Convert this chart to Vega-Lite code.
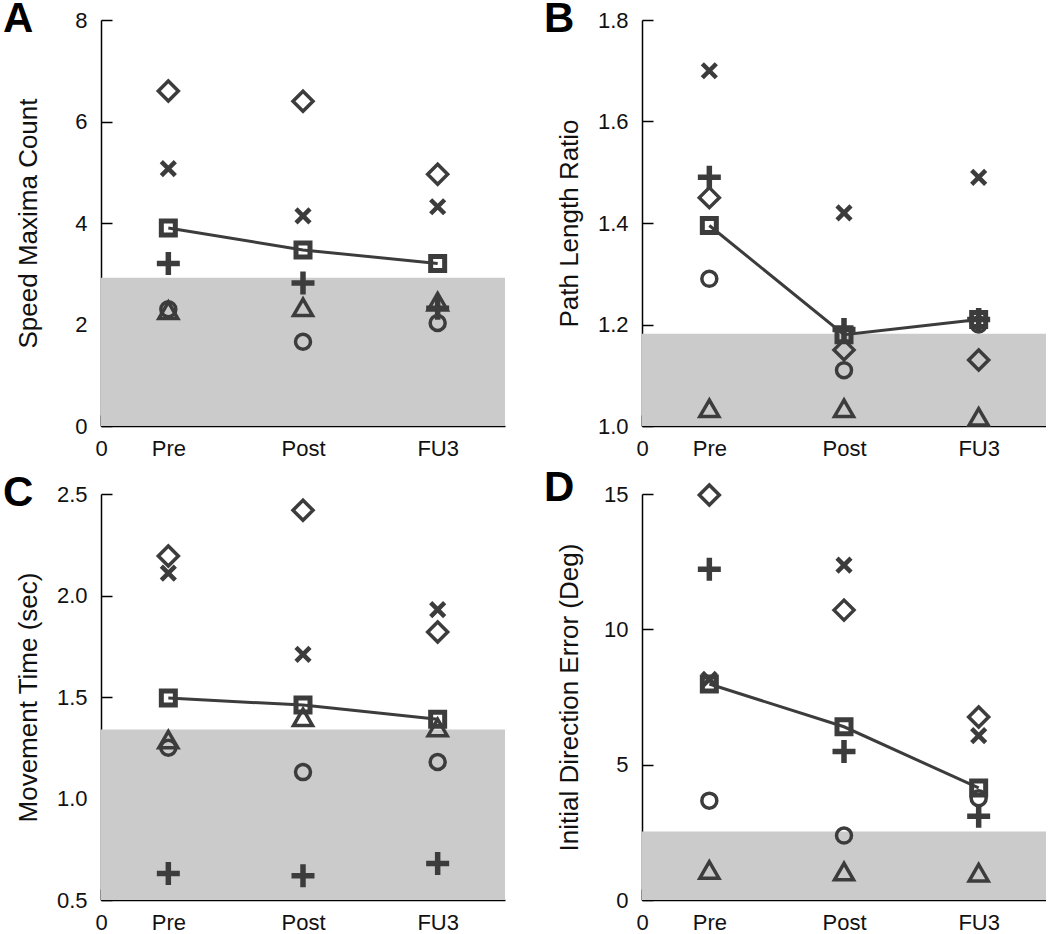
{
 "$schema": "https://vega.github.io/schema/vega-lite/v6.json",
 "padding": {"left": 3, "top": -2, "right": 0, "bottom": 0},
 "background": "white",
 "datasets": {
  "pts": [
   {"p":"A","t":1,"s":"dia","v":6.6},{"p":"A","t":1,"s":"x","v":5.07},{"p":"A","t":1,"s":"plus","v":3.2},{"p":"A","t":1,"s":"circ","v":2.3},{"p":"A","t":1,"s":"tri","v":2.28},{"p":"A","t":1,"s":"mean","v":3.9},
   {"p":"A","t":3,"s":"dia","v":6.4},{"p":"A","t":3,"s":"x","v":4.14},{"p":"A","t":3,"s":"plus","v":2.82},{"p":"A","t":3,"s":"circ","v":1.66},{"p":"A","t":3,"s":"tri","v":2.34},{"p":"A","t":3,"s":"mean","v":3.47},
   {"p":"A","t":5,"s":"dia","v":4.96},{"p":"A","t":5,"s":"x","v":4.32},{"p":"A","t":5,"s":"plus","v":2.32},{"p":"A","t":5,"s":"circ","v":2.03},{"p":"A","t":5,"s":"tri","v":2.45},{"p":"A","t":5,"s":"mean","v":3.2},
   {"p":"B","t":1,"s":"dia","v":1.45},{"p":"B","t":1,"s":"x","v":1.70},{"p":"B","t":1,"s":"plus","v":1.49},{"p":"B","t":1,"s":"circ","v":1.29},{"p":"B","t":1,"s":"tri","v":1.035},{"p":"B","t":1,"s":"mean","v":1.395},
   {"p":"B","t":3,"s":"dia","v":1.15},{"p":"B","t":3,"s":"x","v":1.42},{"p":"B","t":3,"s":"plus","v":1.19},{"p":"B","t":3,"s":"circ","v":1.11},{"p":"B","t":3,"s":"tri","v":1.035},{"p":"B","t":3,"s":"mean","v":1.18},
   {"p":"B","t":5,"s":"dia","v":1.13},{"p":"B","t":5,"s":"x","v":1.49},{"p":"B","t":5,"s":"plus","v":1.21},{"p":"B","t":5,"s":"circ","v":1.2},{"p":"B","t":5,"s":"tri","v":1.018},{"p":"B","t":5,"s":"mean","v":1.21},
   {"p":"C","t":1,"s":"dia","v":2.195},{"p":"C","t":1,"s":"x","v":2.11},{"p":"C","t":1,"s":"plus","v":0.63},{"p":"C","t":1,"s":"circ","v":1.25},{"p":"C","t":1,"s":"tri","v":1.29},{"p":"C","t":1,"s":"mean","v":1.495},
   {"p":"C","t":3,"s":"dia","v":2.42},{"p":"C","t":3,"s":"x","v":1.71},{"p":"C","t":3,"s":"plus","v":0.62},{"p":"C","t":3,"s":"circ","v":1.13},{"p":"C","t":3,"s":"tri","v":1.40},{"p":"C","t":3,"s":"mean","v":1.46},
   {"p":"C","t":5,"s":"dia","v":1.82},{"p":"C","t":5,"s":"x","v":1.93},{"p":"C","t":5,"s":"plus","v":0.68},{"p":"C","t":5,"s":"circ","v":1.18},{"p":"C","t":5,"s":"tri","v":1.35},{"p":"C","t":5,"s":"mean","v":1.39},
   {"p":"D","t":1,"s":"dia","v":14.96},{"p":"D","t":1,"s":"x","v":8.15},{"p":"D","t":1,"s":"plus","v":12.22},{"p":"D","t":1,"s":"circ","v":3.67},{"p":"D","t":1,"s":"tri","v":1.11},{"p":"D","t":1,"s":"mean","v":7.98},
   {"p":"D","t":3,"s":"dia","v":10.71},{"p":"D","t":3,"s":"x","v":12.37},{"p":"D","t":3,"s":"plus","v":5.49},{"p":"D","t":3,"s":"circ","v":2.38},{"p":"D","t":3,"s":"tri","v":1.05},{"p":"D","t":3,"s":"mean","v":6.4},
   {"p":"D","t":5,"s":"dia","v":6.76},{"p":"D","t":5,"s":"x","v":6.07},{"p":"D","t":5,"s":"plus","v":3.09},{"p":"D","t":5,"s":"circ","v":3.76},{"p":"D","t":5,"s":"tri","v":1.01},{"p":"D","t":5,"s":"mean","v":4.14}
  ],
  "bands": [
   {"p":"A","lo":0,"hi":2.92},{"p":"B","lo":1.0,"hi":1.182},{"p":"C","lo":0.5,"hi":1.34},{"p":"D","lo":0,"hi":2.53}
  ]
 },
 "columns": 2,
 "spacing": {"row": 68, "column": 137},
 "bounds": "flush",
 "concat": [
  {
   "width": 404, "height": 406, "title": {"text": "A"},
   "layer": [
    {"data":{"name":"bands"},"transform":[{"filter":"datum.p=='A'"}],"mark":{"type":"rect","color":"#cbcbcb"},
     "encoding":{"x":{"datum":0,"type":"quantitative","scale":{"domain":[0,6],"nice":false,"zero":false},"axis":{"values":[0,1,3,5],"labelExpr":"datum.value==0?'0':datum.value==1?'Pre':datum.value==3?'Post':'FU3'","title":null,"labelFlush":false,"labelOverlap":false,"labelPadding":23}},"x2":{"datum":6},
      "y":{"field":"lo","type":"quantitative","scale":{"domain":[0,8],"nice":false,"zero":false},"axis":{"values":[0,2,4,6,8],"title":"Speed Maxima Count","titleX":-65,"titleY":203,"titleAngle":-90,"titleAlign":"center","titleBaseline":"alphabetic","labelOverlap":false}},"y2":{"field":"hi"}}},
    {"data":{"name":"pts"},"transform":[{"filter":"datum.p=='A' && datum.s=='mean'"}],"mark":{"type":"line","color":"#3c3c3c","strokeWidth":3},
     "encoding":{"x":{"field":"t","type":"quantitative","scale":{"domain":[0,6],"nice":false,"zero":false},"axis":{"values":[0,1,3,5],"labelExpr":"datum.value==0?'0':datum.value==1?'Pre':datum.value==3?'Post':'FU3'","title":null,"labelFlush":false,"labelOverlap":false,"labelPadding":23}},
      "y":{"field":"v","type":"quantitative","scale":{"domain":[0,8],"nice":false,"zero":false},"axis":{"values":[0,2,4,6,8],"title":"Speed Maxima Count","titleX":-65,"titleY":203,"titleAngle":-90,"titleAlign":"center","titleBaseline":"alphabetic","labelOverlap":false}}}},
    {"data":{"name":"pts"},"transform":[{"filter":"datum.p=='A'"}],"mark":{"type":"point","filled":false,"color":"#3c3c3c","opacity":1},
     "encoding":{"x":{"field":"t","type":"quantitative","scale":{"domain":[0,6],"nice":false,"zero":false},"axis":{"values":[0,1,3,5],"labelExpr":"datum.value==0?'0':datum.value==1?'Pre':datum.value==3?'Post':'FU3'","title":null,"labelFlush":false,"labelOverlap":false,"labelPadding":23}},
      "y":{"field":"v","type":"quantitative","scale":{"domain":[0,8],"nice":false,"zero":false},"axis":{"values":[0,2,4,6,8],"title":"Speed Maxima Count","titleX":-65,"titleY":203,"titleAngle":-90,"titleAlign":"center","titleBaseline":"alphabetic","labelOverlap":false}},
      "shape":{"field":"s","type":"nominal","scale":{"domain":["dia","x","plus","circ","tri","mean"],"range":["diamond","M-1,-1L1,1M-1,1L1,-1","M-1,0L1,0M0,-1L0,1","circle","triangle-up","square"]},"legend":null},
      "size":{"field":"s","type":"nominal","scale":{"type":"ordinal","domain":["dia","x","plus","circ","tri","mean"],"range":[400,196,529,225,361,196]},"legend":null},
      "strokeWidth":{"field":"s","type":"nominal","scale":{"type":"ordinal","domain":["dia","x","plus","circ","tri","mean"],"range":[3.5,4.5,5.5,3.5,3.5,5]},"legend":null}}}
   ]
  },
  {
   "width": 404, "height": 406, "title": {"text": "B"},
   "layer": [
    {"data":{"name":"bands"},"transform":[{"filter":"datum.p=='B'"}],"mark":{"type":"rect","color":"#cbcbcb"},
     "encoding":{"x":{"datum":0,"type":"quantitative","scale":{"domain":[0,6],"nice":false,"zero":false},"axis":{"values":[0,1,3,5],"labelExpr":"datum.value==0?'0':datum.value==1?'Pre':datum.value==3?'Post':'FU3'","title":null,"labelFlush":false,"labelOverlap":false,"labelPadding":23}},"x2":{"datum":6},
      "y":{"field":"lo","type":"quantitative","scale":{"domain":[1,1.8],"nice":false,"zero":false},"axis":{"values":[1,1.2,1.4,1.6,1.8],"format":".1f","title":"Path Length Ratio","titleX":-65,"titleY":203,"titleAngle":-90,"titleAlign":"center","titleBaseline":"alphabetic","labelOverlap":false}},"y2":{"field":"hi"}}},
    {"data":{"name":"pts"},"transform":[{"filter":"datum.p=='B' && datum.s=='mean'"}],"mark":{"type":"line","color":"#3c3c3c","strokeWidth":3},
     "encoding":{"x":{"field":"t","type":"quantitative","scale":{"domain":[0,6],"nice":false,"zero":false},"axis":{"values":[0,1,3,5],"labelExpr":"datum.value==0?'0':datum.value==1?'Pre':datum.value==3?'Post':'FU3'","title":null,"labelFlush":false,"labelOverlap":false,"labelPadding":23}},
      "y":{"field":"v","type":"quantitative","scale":{"domain":[1,1.8],"nice":false,"zero":false},"axis":{"values":[1,1.2,1.4,1.6,1.8],"format":".1f","title":"Path Length Ratio","titleX":-65,"titleY":203,"titleAngle":-90,"titleAlign":"center","titleBaseline":"alphabetic","labelOverlap":false}}}},
    {"data":{"name":"pts"},"transform":[{"filter":"datum.p=='B'"}],"mark":{"type":"point","filled":false,"color":"#3c3c3c","opacity":1},
     "encoding":{"x":{"field":"t","type":"quantitative","scale":{"domain":[0,6],"nice":false,"zero":false},"axis":{"values":[0,1,3,5],"labelExpr":"datum.value==0?'0':datum.value==1?'Pre':datum.value==3?'Post':'FU3'","title":null,"labelFlush":false,"labelOverlap":false,"labelPadding":23}},
      "y":{"field":"v","type":"quantitative","scale":{"domain":[1,1.8],"nice":false,"zero":false},"axis":{"values":[1,1.2,1.4,1.6,1.8],"format":".1f","title":"Path Length Ratio","titleX":-65,"titleY":203,"titleAngle":-90,"titleAlign":"center","titleBaseline":"alphabetic","labelOverlap":false}},
      "shape":{"field":"s","type":"nominal","scale":{"domain":["dia","x","plus","circ","tri","mean"],"range":["diamond","M-1,-1L1,1M-1,1L1,-1","M-1,0L1,0M0,-1L0,1","circle","triangle-up","square"]},"legend":null},
      "size":{"field":"s","type":"nominal","scale":{"type":"ordinal","domain":["dia","x","plus","circ","tri","mean"],"range":[400,196,529,225,361,196]},"legend":null},
      "strokeWidth":{"field":"s","type":"nominal","scale":{"type":"ordinal","domain":["dia","x","plus","circ","tri","mean"],"range":[3.5,4.5,5.5,3.5,3.5,5]},"legend":null}}}
   ]
  },
  {
   "width": 404, "height": 406, "title": {"text": "C"},
   "layer": [
    {"data":{"name":"bands"},"transform":[{"filter":"datum.p=='C'"}],"mark":{"type":"rect","color":"#cbcbcb"},
     "encoding":{"x":{"datum":0,"type":"quantitative","scale":{"domain":[0,6],"nice":false,"zero":false},"axis":{"values":[0,1,3,5],"labelExpr":"datum.value==0?'0':datum.value==1?'Pre':datum.value==3?'Post':'FU3'","title":null,"labelFlush":false,"labelOverlap":false,"labelPadding":23}},"x2":{"datum":6},
      "y":{"field":"lo","type":"quantitative","scale":{"domain":[0.5,2.5],"nice":false,"zero":false},"axis":{"values":[0.5,1,1.5,2,2.5],"format":".1f","title":"Movement Time (sec)","titleX":-65,"titleY":203,"titleAngle":-90,"titleAlign":"center","titleBaseline":"alphabetic","labelOverlap":false}},"y2":{"field":"hi"}}},
    {"data":{"name":"pts"},"transform":[{"filter":"datum.p=='C' && datum.s=='mean'"}],"mark":{"type":"line","color":"#3c3c3c","strokeWidth":3},
     "encoding":{"x":{"field":"t","type":"quantitative","scale":{"domain":[0,6],"nice":false,"zero":false},"axis":{"values":[0,1,3,5],"labelExpr":"datum.value==0?'0':datum.value==1?'Pre':datum.value==3?'Post':'FU3'","title":null,"labelFlush":false,"labelOverlap":false,"labelPadding":23}},
      "y":{"field":"v","type":"quantitative","scale":{"domain":[0.5,2.5],"nice":false,"zero":false},"axis":{"values":[0.5,1,1.5,2,2.5],"format":".1f","title":"Movement Time (sec)","titleX":-65,"titleY":203,"titleAngle":-90,"titleAlign":"center","titleBaseline":"alphabetic","labelOverlap":false}}}},
    {"data":{"name":"pts"},"transform":[{"filter":"datum.p=='C'"}],"mark":{"type":"point","filled":false,"color":"#3c3c3c","opacity":1},
     "encoding":{"x":{"field":"t","type":"quantitative","scale":{"domain":[0,6],"nice":false,"zero":false},"axis":{"values":[0,1,3,5],"labelExpr":"datum.value==0?'0':datum.value==1?'Pre':datum.value==3?'Post':'FU3'","title":null,"labelFlush":false,"labelOverlap":false,"labelPadding":23}},
      "y":{"field":"v","type":"quantitative","scale":{"domain":[0.5,2.5],"nice":false,"zero":false},"axis":{"values":[0.5,1,1.5,2,2.5],"format":".1f","title":"Movement Time (sec)","titleX":-65,"titleY":203,"titleAngle":-90,"titleAlign":"center","titleBaseline":"alphabetic","labelOverlap":false}},
      "shape":{"field":"s","type":"nominal","scale":{"domain":["dia","x","plus","circ","tri","mean"],"range":["diamond","M-1,-1L1,1M-1,1L1,-1","M-1,0L1,0M0,-1L0,1","circle","triangle-up","square"]},"legend":null},
      "size":{"field":"s","type":"nominal","scale":{"type":"ordinal","domain":["dia","x","plus","circ","tri","mean"],"range":[400,196,529,225,361,196]},"legend":null},
      "strokeWidth":{"field":"s","type":"nominal","scale":{"type":"ordinal","domain":["dia","x","plus","circ","tri","mean"],"range":[3.5,4.5,5.5,3.5,3.5,5]},"legend":null}}}
   ]
  },
  {
   "width": 404, "height": 406, "title": {"text": "D"},
   "layer": [
    {"data":{"name":"bands"},"transform":[{"filter":"datum.p=='D'"}],"mark":{"type":"rect","color":"#cbcbcb"},
     "encoding":{"x":{"datum":0,"type":"quantitative","scale":{"domain":[0,6],"nice":false,"zero":false},"axis":{"values":[0,1,3,5],"labelExpr":"datum.value==0?'0':datum.value==1?'Pre':datum.value==3?'Post':'FU3'","title":null,"labelFlush":false,"labelOverlap":false,"labelPadding":23}},"x2":{"datum":6},
      "y":{"field":"lo","type":"quantitative","scale":{"domain":[0,15],"nice":false,"zero":false},"axis":{"values":[0,5,10,15],"title":"Initial Direction Error (Deg)","titleX":-65,"titleY":203,"titleAngle":-90,"titleAlign":"center","titleBaseline":"alphabetic","labelOverlap":false}},"y2":{"field":"hi"}}},
    {"data":{"name":"pts"},"transform":[{"filter":"datum.p=='D' && datum.s=='mean'"}],"mark":{"type":"line","color":"#3c3c3c","strokeWidth":3},
     "encoding":{"x":{"field":"t","type":"quantitative","scale":{"domain":[0,6],"nice":false,"zero":false},"axis":{"values":[0,1,3,5],"labelExpr":"datum.value==0?'0':datum.value==1?'Pre':datum.value==3?'Post':'FU3'","title":null,"labelFlush":false,"labelOverlap":false,"labelPadding":23}},
      "y":{"field":"v","type":"quantitative","scale":{"domain":[0,15],"nice":false,"zero":false},"axis":{"values":[0,5,10,15],"title":"Initial Direction Error (Deg)","titleX":-65,"titleY":203,"titleAngle":-90,"titleAlign":"center","titleBaseline":"alphabetic","labelOverlap":false}}}},
    {"data":{"name":"pts"},"transform":[{"filter":"datum.p=='D'"}],"mark":{"type":"point","filled":false,"color":"#3c3c3c","opacity":1},
     "encoding":{"x":{"field":"t","type":"quantitative","scale":{"domain":[0,6],"nice":false,"zero":false},"axis":{"values":[0,1,3,5],"labelExpr":"datum.value==0?'0':datum.value==1?'Pre':datum.value==3?'Post':'FU3'","title":null,"labelFlush":false,"labelOverlap":false,"labelPadding":23}},
      "y":{"field":"v","type":"quantitative","scale":{"domain":[0,15],"nice":false,"zero":false},"axis":{"values":[0,5,10,15],"title":"Initial Direction Error (Deg)","titleX":-65,"titleY":203,"titleAngle":-90,"titleAlign":"center","titleBaseline":"alphabetic","labelOverlap":false}},
      "shape":{"field":"s","type":"nominal","scale":{"domain":["dia","x","plus","circ","tri","mean"],"range":["diamond","M-1,-1L1,1M-1,1L1,-1","M-1,0L1,0M0,-1L0,1","circle","triangle-up","square"]},"legend":null},
      "size":{"field":"s","type":"nominal","scale":{"type":"ordinal","domain":["dia","x","plus","circ","tri","mean"],"range":[400,196,529,225,361,196]},"legend":null},
      "strokeWidth":{"field":"s","type":"nominal","scale":{"type":"ordinal","domain":["dia","x","plus","circ","tri","mean"],"range":[3.5,4.5,5.5,3.5,3.5,5]},"legend":null}}}
   ]
  }
 ],
 "config": {
  "font": "Liberation Sans",
  "view": {"stroke": null},
  "axis": {"grid": false, "domainColor": "#000", "domainWidth": 1.5, "tickColor": "#000", "tickWidth": 1.5, "tickSize": -11, "labelPadding": 25, "labelFontSize": 22, "labelColor": "#111", "labelFont": "Liberation Sans", "titleFont": "Liberation Sans", "titleFontSize": 26, "titleFontWeight": "normal", "titleColor": "#111"},
  "title": {"fontSize": 42, "fontWeight": "bold", "font": "Liberation Sans", "anchor": "start", "frame": "group", "dx": -98, "dy": 36, "offset": 0, "color": "#000", "baseline": "alphabetic"}
 }
}
